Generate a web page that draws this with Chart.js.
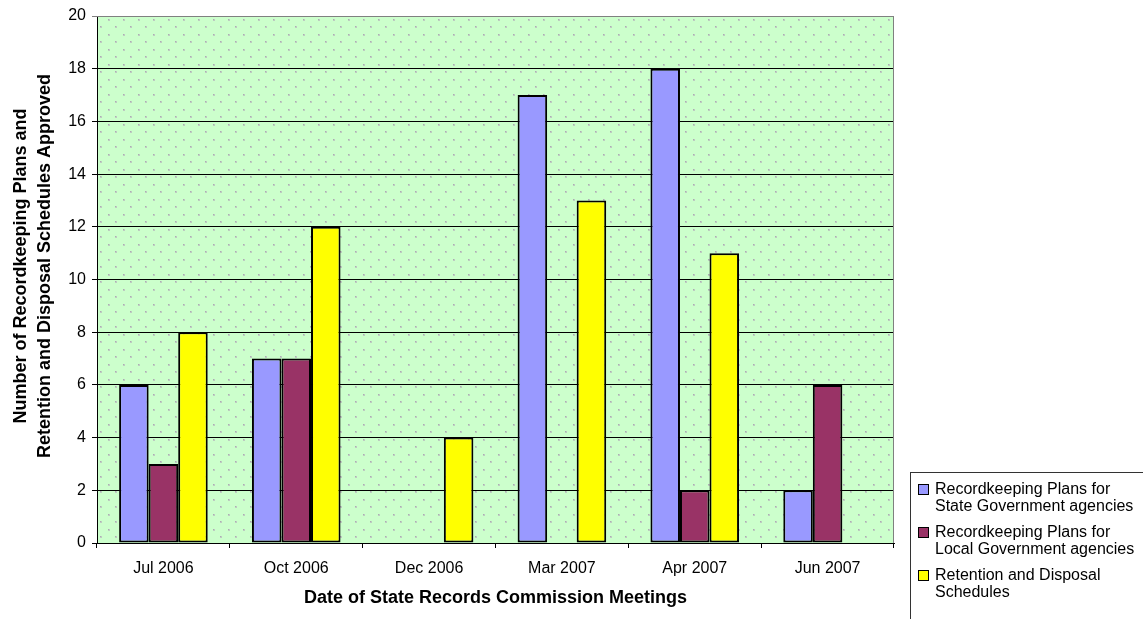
<!DOCTYPE html>
<html>
<head>
<meta charset="utf-8">
<script src="https://cdn.jsdelivr.net/npm/chart.js@4"></script>
<style>
  html, body { margin: 0; padding: 0; background: #fff; }
  canvas { display: block; }
</style>
</head>
<body>
<canvas id="meetingsChart" width="1143" height="619"></canvas>
<script>
// chart data
const meetings = ['Jul 2006', 'Oct 2006', 'Dec 2006', 'Mar 2007', 'Apr 2007', 'Jun 2007'];
const statePlans = [6, 7, 0, 17, 18, 2];
const localPlans = [3, 7, 0, 0, 2, 6];
const retentionSchedules = [8, 12, 4, 13, 11, 0];
const yTicks = [0, 2, 4, 6, 8, 10, 12, 14, 16, 18, 20];
const yTitleLines = ['Number of Recordkeeping Plans and', 'Retention and Disposal Schedules Approved'];
const xTitle = 'Date of State Records Commission Meetings';
const legendLines = [
  ['Recordkeeping Plans for', 'State Government agencies'],
  ['Recordkeeping Plans for', 'Local Government agencies'],
  ['Retention and Disposal', 'Schedules']
];

const seriesColors = ['#9999FF', '#993366', '#FFFF00'];
const fontFamily = "'Liberation Sans', Arial, sans-serif";

Chart.defaults.font.family = fontFamily;
Chart.defaults.color = '#000';

// dotted green plot background
const dotTile = document.createElement('canvas');
dotTile.width = 15;
dotTile.height = 15;
const tctx = dotTile.getContext('2d');
tctx.fillStyle = '#CCFFCC';
tctx.fillRect(0, 0, 15, 15);
tctx.fillStyle = '#bcccc0';
tctx.fillRect(3, 4, 2, 2);
tctx.fillRect(10, 11, 2, 2);
tctx.fillStyle = '#aeaab4';
tctx.fillRect(3, 4, 1, 1);
tctx.fillRect(10, 11, 1, 1);

const plotBackground = {
  id: 'plotBackground',
  beforeDraw(chart) {
    const {ctx, chartArea: a} = chart;
    ctx.save();
    ctx.fillStyle = ctx.createPattern(dotTile, 'repeat');
    ctx.fillRect(a.left, a.top, a.right - a.left, a.bottom - a.top);
    ctx.restore();
  },
  afterDatasetsDraw(chart) {
    const {ctx, chartArea: a} = chart;
    ctx.save();
    ctx.strokeStyle = '#808080';
    ctx.lineWidth = 1;
    ctx.beginPath();
    ctx.moveTo(a.left, a.top + 0.5);
    ctx.lineTo(a.right - 0.5, a.top + 0.5);
    ctx.lineTo(a.right - 0.5, a.bottom);
    ctx.stroke();
    ctx.restore();
  }
};

// y title sits a little above the plot centre, so draw it here
const yTitle = {
  id: 'yTitle',
  afterDraw(chart) {
    const {ctx} = chart;
    ctx.save();
    ctx.translate(0, 266);
    ctx.rotate(-Math.PI / 2);
    ctx.font = 'bold 18px ' + fontFamily;
    ctx.fillStyle = '#000';
    ctx.textAlign = 'center';
    ctx.textBaseline = 'alphabetic';
    yTitleLines.forEach((line, i) => {
      ctx.fillText(line, 0, 25.5 + i * 24.5);
    });
    ctx.restore();
  }
};

// boxed legend in the lower right
const boxLegend = {
  id: 'boxLegend',
  afterDraw(chart) {
    const {ctx} = chart;
    const left = 910, top = 472;
    ctx.save();
    ctx.strokeStyle = '#333';
    ctx.lineWidth = 1;
    ctx.strokeRect(left + 0.5, top + 0.5, 260, 200);
    ctx.font = '16px ' + fontFamily;
    ctx.textBaseline = 'middle';
    ctx.textAlign = 'left';
    chart.data.datasets.forEach((ds, i) => {
      const y = 490 + i * 43;
      ctx.fillStyle = ds.backgroundColor;
      ctx.fillRect(918.5, y - 5.5, 10, 10);
      ctx.strokeStyle = '#000';
      ctx.strokeRect(918.5, y - 5.5, 10, 10);
      ctx.fillStyle = '#000';
      legendLines[i].forEach((line, j) => {
        ctx.fillText(line, 935, y + j * 17);
      });
    });
    ctx.restore();
  }
};

const ctx = document.getElementById('meetingsChart').getContext('2d');

const chart = new Chart(ctx, {
  type: 'bar',
  data: {
    labels: meetings,
    datasets: [
      { label: legendLines[0].join(' '), data: statePlans, backgroundColor: seriesColors[0] },
      { label: legendLines[1].join(' '), data: localPlans, backgroundColor: seriesColors[1] },
      { label: legendLines[2].join(' '), data: retentionSchedules, backgroundColor: seriesColors[2] }
    ].map(ds => Object.assign(ds, {
      borderColor: '#000',
      borderWidth: 2,
      borderSkipped: false,
      categoryPercentage: 0.667,
      barPercentage: 1
    }))
  },
  options: {
    responsive: false,
    animation: false,
    devicePixelRatio: 1,
    layout: { padding: { top: 16, right: 249, left: 0, bottom: 0 } },
    plugins: {
      legend: { display: false },
      tooltip: { enabled: false }
    },
    scales: {
      x: {
        afterFit: s => { s.height = 76; },
        grid: { offset: true, drawOnChartArea: false, tickLength: 5, color: '#000' },
        border: { color: '#000' },
        ticks: { font: { size: 16 }, padding: 11, maxRotation: 0 },
        title: {
          display: true,
          text: xTitle,
          font: { size: 18, weight: 'bold' },
          padding: { top: 0, bottom: 10.5 }
        }
      },
      y: {
        min: 0,
        max: 20,
        afterFit: s => { s.width = 97; },
        afterBuildTicks: s => { s.ticks = yTicks.map(v => ({ value: v })); },
        grid: {
          tickLength: 5,
          color: c => (c.tick && c.tick.value === 20 ? '#808080' : '#000')
        },
        border: { color: '#000' },
        ticks: { font: { size: 16 }, padding: 6 },
        title: { display: false, text: yTitleLines }
      }
    }
  },
  plugins: [plotBackground, yTitle, boxLegend]
});
</script>
</body>
</html>
